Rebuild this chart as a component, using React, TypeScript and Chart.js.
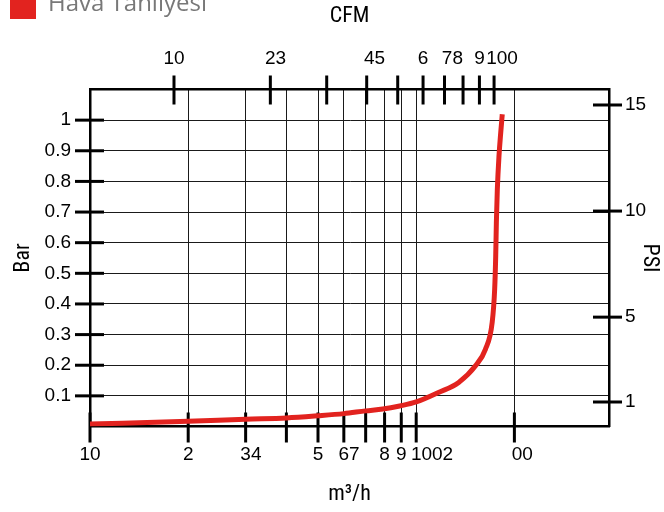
import React, { useEffect, useRef } from 'react';
import { Chart, registerables } from 'chart.js';

Chart.register(...registerables);

// ---- data ----
const SERIES_LABEL = 'Hava Tahliyesi';
const FLOW_M3H = [10, 20, 30, 40, 50, 60, 70, 79, 89, 100, 117, 135, 152, 163, 171, 174, 175.3, 176.1, 177.3, 179.4, 181.6, 183.6];
const PRESSURE_BAR = [0.008, 0.017, 0.024, 0.028, 0.035, 0.042, 0.051, 0.057, 0.067, 0.08, 0.111, 0.144, 0.198, 0.252, 0.34, 0.448, 0.557, 0.666, 0.774, 0.883, 0.959, 1.019];

const M3H_TICKS = [10, 20, 30, 40, 50, 60, 70, 80, 90, 100, 200];
const M3H_LABELS = ['10', '2', '  34', '', '5', '  67', '', '8', '9', '      1002', '   00'];
const CFM_TICKS = [10, 20, 30, 40, 50, 60, 70, 80, 90, 100];
const CFM_LABELS = ['10', '  23', '', '   45', '', '6', '   78', '', '9', '   100'];
const BAR_TICKS = [0.1, 0.2, 0.3, 0.4, 0.5, 0.6, 0.7, 0.8, 0.9, 1];
const BAR_LABELS = ['0.1', '0.2', '0.3', '0.4', '0.5', '0.6', '0.7', '0.8', '0.9', '1'];
const PSI_TICKS = [1, 5, 10, 15];
const PSI_LABELS = ['1', '5', '10', '15'];

const RED = '#e2231f';
const SHIFT = 21;

export default function App() {
  const ref = useRef<HTMLCanvasElement>(null);

  useEffect(() => {
    if (!ref.current) return;

    const tickFont = { family: "'Liberation Sans', Arial, sans-serif", size: 19 };
    const titleFont = { family: "'Liberation Sans Narrow', 'Roboto Condensed', 'Noto Sans', sans-serif", size: 22 };

    const tickMarks = {
      id: 'tickMarks',
      beforeDatasetsDraw(chart: any) {
        const { ctx, chartArea: a, scales } = chart;
        ctx.save();
        ctx.strokeStyle = '#000';
        ctx.lineWidth = 3;
        const seg = (x1: number, y1: number, x2: number, y2: number) => {
          ctx.beginPath();
          ctx.moveTo(x1, y1);
          ctx.lineTo(x2, y2);
          ctx.stroke();
        };
        scales.x.ticks.forEach((t: any) => {
          const p = scales.x.getPixelForValue(t.value);
          seg(p, a.bottom - 14, p, a.bottom + 16);
        });
        scales.xTop.ticks.forEach((t: any) => {
          const p = scales.xTop.getPixelForValue(t.value);
          seg(p, a.top - 14, p, a.top + 15);
        });
        scales.y.ticks.forEach((t: any) => {
          const p = scales.y.getPixelForValue(t.value);
          seg(a.left - 15, p, a.left + 14, p);
        });
        scales.yPsi.ticks.forEach((t: any) => {
          const p = scales.yPsi.getPixelForValue(t.value);
          seg(a.right - 16, p, a.right + 13, p);
        });
        ctx.restore();
      },
    };

    const hiddenTicks = 'rgba(0,0,0,0)';
    const border = { display: true, color: '#000', width: 2.5 };

    const chart = new Chart(ref.current, {
      type: 'line',
      data: {
        datasets: [
          {
            label: SERIES_LABEL,
            data: FLOW_M3H.map((x, i) => ({ x, y: PRESSURE_BAR[i] })),
            borderColor: RED,
            backgroundColor: RED,
            borderWidth: 5,
            pointRadius: 0,
            cubicInterpolationMode: 'monotone',
            borderCapStyle: 'butt',
            xAxisID: 'x',
            yAxisID: 'y',
          },
        ],
      },
      options: {
        animation: false,
        responsive: true,
        maintainAspectRatio: false,
        layout: { padding: 0 },
        plugins: {
          tooltip: { enabled: false },
          legend: {
            display: true,
            position: 'top',
            align: 'start',
            labels: {
              boxWidth: 26,
              boxHeight: 30,
              padding: 10,
              color: '#787878',
              font: { family: "'Open Sans', 'Noto Sans', sans-serif", size: 24 },
              generateLabels: () => [
                {
                  text: SERIES_LABEL,
                  fillStyle: RED,
                  strokeStyle: RED,
                  lineWidth: 0,
                  hidden: false,
                  datasetIndex: 0,
                  fontColor: '#787878',
                },
              ],
            },
          },
        },
        scales: {
          x: {
            type: 'logarithmic',
            position: 'bottom',
            min: 10,
            max: 390,
            afterBuildTicks: (s: any) => {
              s.ticks = M3H_TICKS.map((v) => ({ value: v }));
            },
            afterFit: (s: any) => {
              s.height = 85.5;
            },
            ticks: {
              autoSkip: false,
              maxRotation: 0,
              minRotation: 0,
              padding: 1,
              color: '#000',
              font: tickFont,
              callback: (v: any) => {
                const i = M3H_TICKS.indexOf(Number(v));
                return i >= 0 ? M3H_LABELS[i] : '';
              },
            },
            grid: { color: '#1a1a1a', lineWidth: 1, drawTicks: true, tickLength: 15.5, tickColor: hiddenTicks },
            border,
            title: { display: true, text: 'm³/h', color: '#000', font: titleFont, padding: { top: 0, bottom: 4 } },
          },
          xTop: {
            type: 'logarithmic',
            position: 'top',
            min: 5.465,
            max: 228.6,
            afterBuildTicks: (s: any) => {
              s.ticks = CFM_TICKS.map((v) => ({ value: v }));
            },
            afterFit: (s: any) => {
              s.height = 60.5;
            },
            ticks: {
              autoSkip: false,
              maxRotation: 0,
              minRotation: 0,
              padding: 5,
              color: '#000',
              font: tickFont,
              callback: (v: any) => {
                const i = CFM_TICKS.indexOf(Number(v));
                return i >= 0 ? CFM_LABELS[i] : '';
              },
            },
            grid: { drawOnChartArea: false, drawTicks: true, tickLength: 14, tickColor: hiddenTicks },
            border,
            title: { display: true, text: 'CFM', color: '#000', font: titleFont, padding: { top: -26, bottom: 0 } },
          },
          y: {
            type: 'linear',
            position: 'left',
            min: 0,
            max: 1.1,
            afterBuildTicks: (s: any) => {
              s.ticks = BAR_TICKS.map((v) => ({ value: v }));
            },
            afterFit: (s: any) => {
              s.width = 90;
            },
            ticks: {
              autoSkip: false,
              padding: 4,
              color: '#000',
              font: tickFont,
              callback: (v: any) => {
                const i = BAR_TICKS.indexOf(Number(v));
                return i >= 0 ? BAR_LABELS[i] : '';
              },
            },
            grid: { color: '#1a1a1a', lineWidth: 1, drawTicks: true, tickLength: 15, tickColor: hiddenTicks },
            border,
            title: { display: true, text: 'Bar', color: '#000', font: titleFont, padding: { top: 10, bottom: 0 } },
          },
          yPsi: {
            type: 'linear',
            position: 'right',
            min: -0.155,
            max: 15.73,
            afterBuildTicks: (s: any) => {
              s.ticks = PSI_TICKS.map((v) => ({ value: v }));
            },
            afterFit: (s: any) => {
              s.width = 55;
            },
            ticks: {
              autoSkip: false,
              padding: 3,
              color: '#000',
              font: tickFont,
              callback: (v: any) => {
                const i = PSI_TICKS.indexOf(Number(v));
                return i >= 0 ? PSI_LABELS[i] : '';
              },
            },
            grid: { drawOnChartArea: false, drawTicks: true, tickLength: 13, tickColor: hiddenTicks },
            border,
            title: { display: true, text: 'PSI', color: '#000', font: titleFont, padding: { top: 1, bottom: 0 } },
          },
        },
      },
      plugins: [tickMarks],
    } as any);

    return () => chart.destroy();
  }, []);

  return (
    <div style={{ position: 'absolute', left: 0, top: -SHIFT, width: 664, height: 512 + SHIFT }}>
      <canvas ref={ref} />
    </div>
  );
}
